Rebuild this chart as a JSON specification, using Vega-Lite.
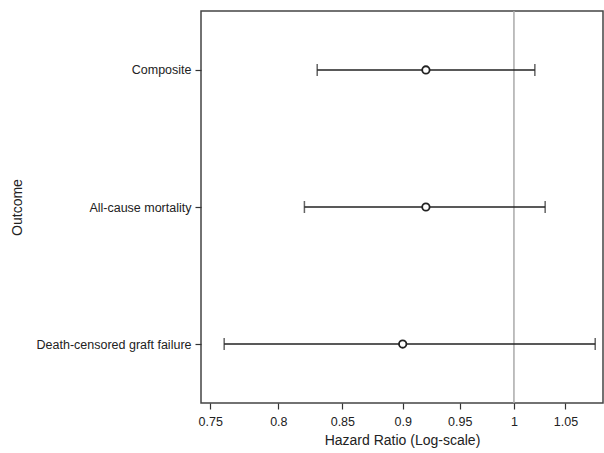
{
  "$schema": "https://vega.github.io/schema/vega-lite/v6.json",
  "autosize": {"type": "none"},
  "padding": {"left": 201, "top": 11, "right": 1, "bottom": 50},
  "width": 402,
  "height": 392,
  "background": "white",
  "config": {
    "font": "Liberation Sans",
    "view": {"stroke": "#444", "strokeWidth": 1.5},
    "axis": {"labelFont": "Liberation Sans", "titleFont": "Liberation Sans", "labelColor": "#222", "titleColor": "#222", "tickColor": "#333", "grid": false, "domain": false, "labelFontSize": 12.5, "titleFontSize": 14, "titleFontWeight": "normal", "tickSize": 6, "tickWidth": 1.2}
  },
  "data": {
    "values": [
      {"outcome": "Composite", "hr": 0.92, "lo": 0.83, "hi": 1.02},
      {"outcome": "All-cause mortality", "hr": 0.92, "lo": 0.82, "hi": 1.03},
      {"outcome": "Death-censored graft failure", "hr": 0.90, "lo": 0.76, "hi": 1.08}
    ]
  },
  "encoding": {
    "y": {
      "field": "outcome", "type": "nominal",
      "sort": ["Composite", "All-cause mortality", "Death-censored graft failure"],
      "scale": {"type": "point", "padding": 0.43},
      "axis": {"title": "Outcome", "titlePadding": 12, "labelPadding": 4}
    }
  },
  "layer": [
    {
      "data": {"values": [{"ref": 1}]},
      "mark": {"type": "rule", "color": "#aaa", "strokeWidth": 1.5},
      "encoding": {
        "y": null,
        "x": {"field": "ref", "type": "quantitative", "scale": {"type": "log", "domain": [0.7435, 1.088], "nice": false}}
      }
    },
    {
      "mark": {"type": "rule", "color": "#222", "strokeWidth": 1.5},
      "encoding": {
        "x": {"field": "lo", "type": "quantitative"},
        "x2": {"field": "hi"}
      }
    },
    {
      "mark": {"type": "tick", "color": "#222", "thickness": 1.5, "size": 12, "orient": "vertical"},
      "encoding": {
        "x": {"field": "lo", "type": "quantitative"}
      }
    },
    {
      "mark": {"type": "tick", "color": "#222", "thickness": 1.5, "size": 12, "orient": "vertical"},
      "encoding": {
        "x": {"field": "hi", "type": "quantitative"}
      }
    },
    {
      "mark": {"type": "point", "shape": "circle", "filled": true, "fill": "white", "stroke": "#222", "strokeWidth": 1.8, "size": 55, "opacity": 1},
      "encoding": {
        "x": {
          "field": "hr", "type": "quantitative",
          "scale": {"type": "log", "domain": [0.7435, 1.088], "nice": false},
          "axis": {"title": "Hazard Ratio (Log-scale)", "values": [0.75, 0.8, 0.85, 0.9, 0.95, 1, 1.05], "format": "~g", "labelPadding": 6, "titlePadding": 6}
        }
      }
    }
  ]
}
